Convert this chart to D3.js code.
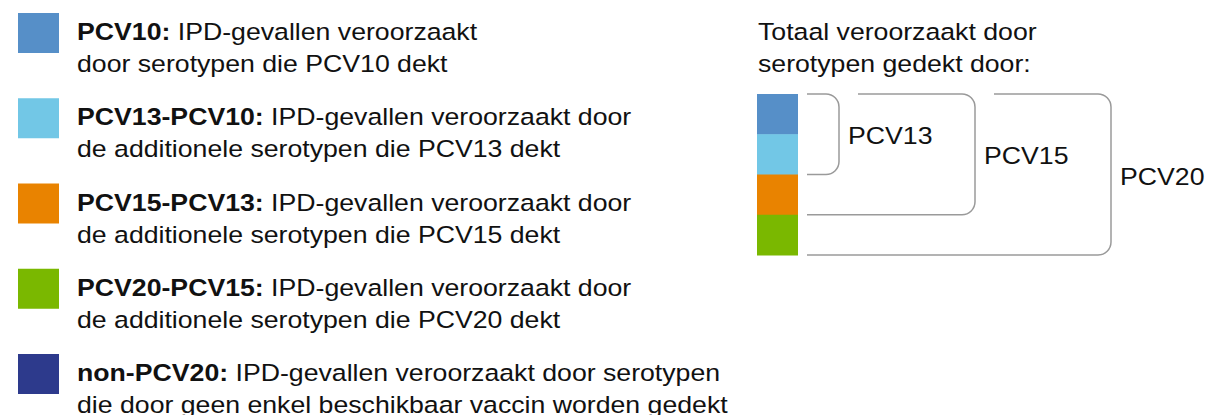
<!DOCTYPE html>
<html>
<head>
<meta charset="utf-8">
<script src="https://cdn.jsdelivr.net/npm/d3@7"></script>
<style>
  body { margin: 0; background: #fff; }
  text { font-family: "Liberation Sans", Arial, sans-serif; fill: #111; }
</style>
</head>
<body>
<div id="chart"></div>
<script>
// legend entries
const keys = ['PCV10', 'PCV13-PCV10', 'PCV15-PCV13', 'PCV20-PCV15', 'non-PCV20'];
const colors = ['#568fc8', '#72c7e6', '#e98300', '#7ab800', '#2d3a8c'];
const line1 = [
    'IPD-gevallen veroorzaakt',
    'IPD-gevallen veroorzaakt door',
    'IPD-gevallen veroorzaakt door',
    'IPD-gevallen veroorzaakt door',
    'IPD-gevallen veroorzaakt door serotypen'
];
const line2 = [
    'door serotypen die PCV10 dekt',
    'de additionele serotypen die PCV13 dekt',
    'de additionele serotypen die PCV15 dekt',
    'de additionele serotypen die PCV20 dekt',
    'die door geen enkel beschikbaar vaccin worden gedekt'
];

// right hand side: stacked block + brackets
const stackKeys = keys.slice(0, 4);
const vaccines = ['PCV13', 'PCV15', 'PCV20'];
const vaccineSegments = [2, 3, 4]; // how many segments from the top each vaccine covers
const title = ['Totaal veroorzaakt door', 'serotypen gedekt door:'];

function renderLegend(chartId) {
    const width = 1205;
    const height = 415;
    const fontSize = 23.5;
    const sx = 1.135; // the source text is a bit wider than Arial

    const svg = d3.select(`#${chartId}`)
        .append('svg')
        .attr('width', width)
        .attr('height', height)
        .attr('viewBox', [0, 0, width, height]);

    const color = d3.scaleOrdinal().domain(keys).range(colors);

    const place = (x, y) => `translate(${x}, ${y}) scale(${sx}, 1)`;

    // rows of the left legend
    const row = d3.scalePoint()
        .domain(keys)
        .range([13, 354]);

    const rows = svg.append('g')
        .selectAll('g')
        .data(keys)
        .join('g')
        .attr('transform', d => `translate(0, ${row(d)})`);

    rows.append('rect')
        .attr('x', 18)
        .attr('width', 41)
        .attr('height', 40)
        .attr('fill', d => color(d));

    const t1 = rows.append('text')
        .attr('transform', place(77, 27))
        .attr('font-size', fontSize);
    t1.append('tspan')
        .attr('font-weight', 'bold')
        .text(d => d + ': ');
    t1.append('tspan')
        .text((d, i) => line1[i]);

    rows.append('text')
        .attr('transform', place(77, 59))
        .attr('font-size', fontSize)
        .text((d, i) => line2[i]);

    // title on the right
    svg.append('g')
        .selectAll('text')
        .data(title)
        .join('text')
        .attr('transform', (d, i) => place(758, 40 + i * 32))
        .attr('font-size', fontSize)
        .text(d => d);

    // stacked block
    const seg = d3.scaleBand()
        .domain(stackKeys)
        .range([94, 255]);

    svg.append('g')
        .selectAll('rect')
        .data(stackKeys)
        .join('rect')
        .attr('x', 757)
        .attr('y', d => seg(d))
        .attr('width', 41)
        .attr('height', seg.bandwidth() + 0.5)
        .attr('fill', d => color(d));

    // brackets
    const bx = d3.scaleLinear()
        .domain([0, vaccines.length - 1])
        .range([839, 1111]);
    const left = 807;
    const top = seg(stackKeys[0]);
    const r = 13;
    const bottomOf = i => seg(stackKeys[vaccineSegments[i] - 1]) + seg.bandwidth();

    const bracketPath = (d, i) => {
        const xr = bx(i);
        const x0 = i === 0 ? left : bx(i - 1) + 19;
        const yb = bottomOf(i);
        const p = d3.path();
        p.moveTo(x0, top);
        p.lineTo(xr - r, top);
        p.arcTo(xr, top, xr, top + r, r);
        p.lineTo(xr, yb - r);
        p.arcTo(xr, yb, xr - r, yb, r);
        p.lineTo(left, yb);
        return p.toString();
    };

    const br = svg.append('g')
        .selectAll('g')
        .data(vaccines)
        .join('g');

    br.append('path')
        .attr('d', bracketPath)
        .attr('fill', 'none')
        .attr('stroke', '#9a9a9a')
        .attr('stroke-width', 1.5);

    br.append('text')
        .attr('transform', (d, i) => place(bx(i) + 9, (top + bottomOf(i)) / 2 + 10))
        .attr('font-size', fontSize)
        .text(d => d);

    svg.node();
}

renderLegend('chart');
</script>
</body>
</html>
